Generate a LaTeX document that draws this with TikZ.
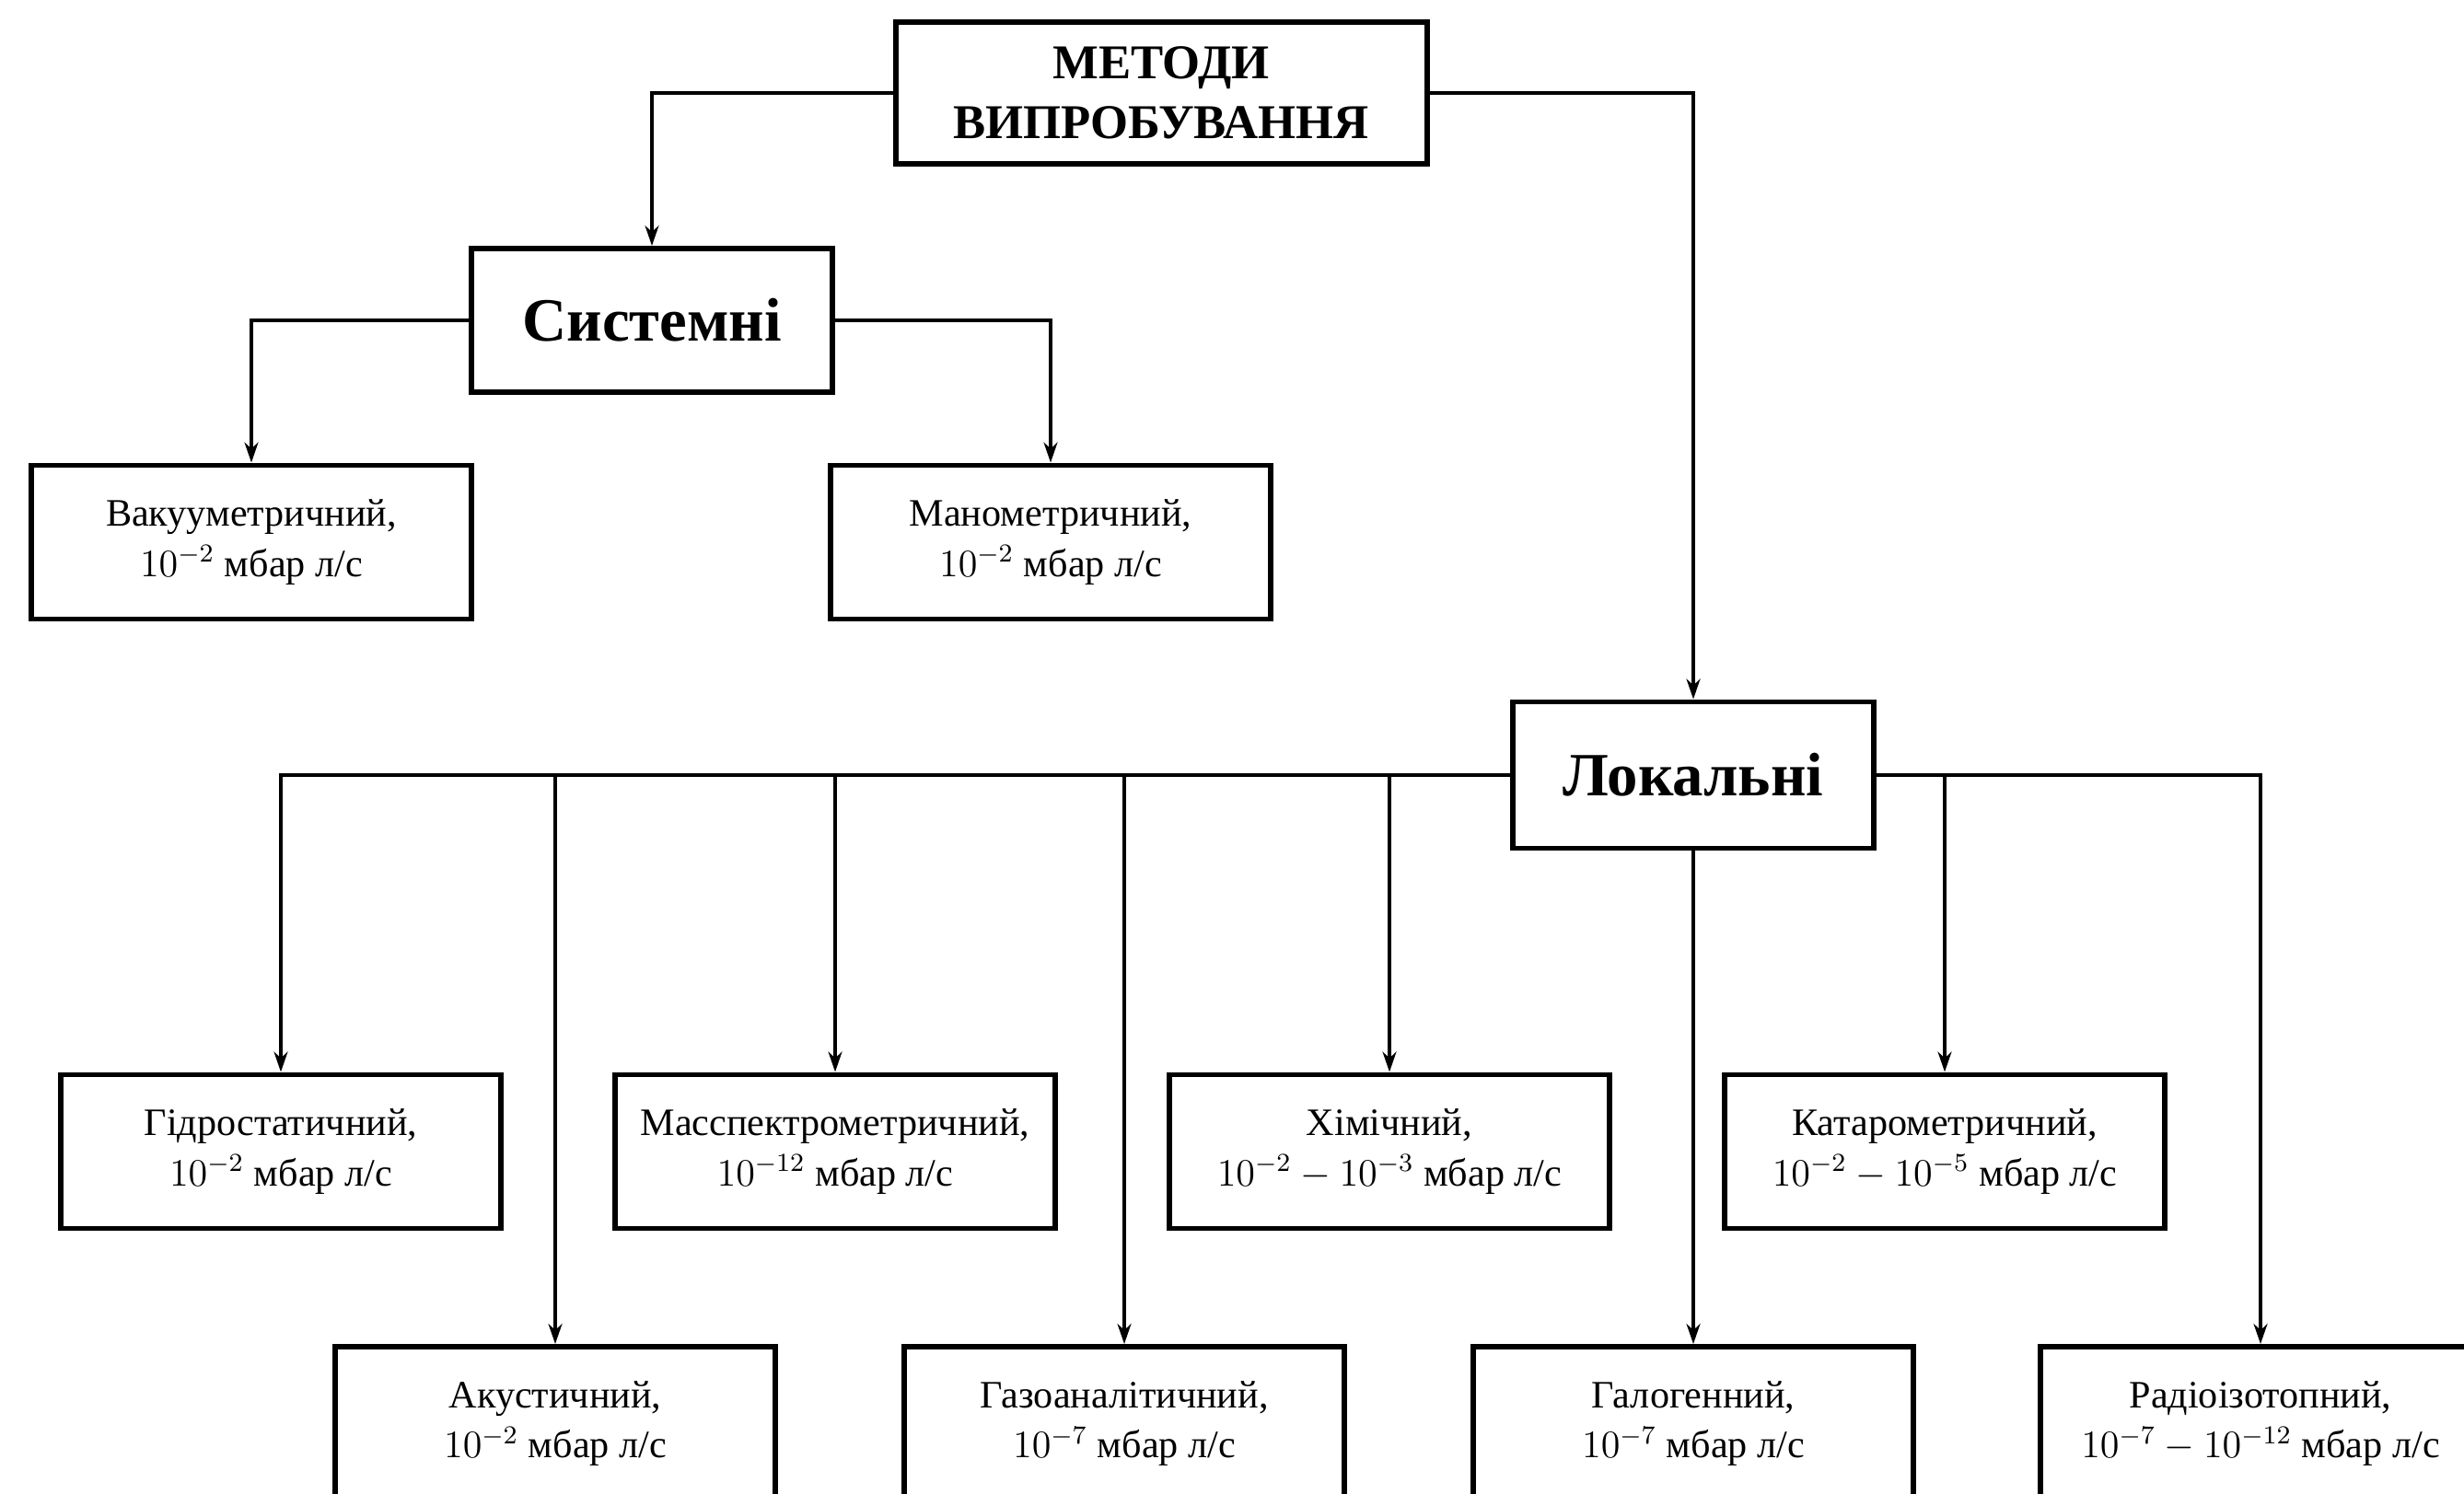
\documentclass[tikz,border=0pt]{standalone}
\usepackage{fontspec}
\setmainfont{Liberation Serif}
\usepackage{tikz}
\usetikzlibrary{arrows.meta}

\tikzset{
  method/.style={draw, line width=1.7pt, minimum width=4.78cm, minimum height=1.67cm,
    align=center, inner sep=0pt, font=\fontsize{12}{15.5}\selectfont},
  group/.style={draw, line width=1.7pt, minimum width=3.92cm, minimum height=1.56cm,
    align=center, inner sep=0pt, font=\bfseries\fontsize{19}{22}\selectfont},
}

\begin{document}
\begin{tikzpicture}[->, >={Stealth[length=0.22cm,width=0.15cm]}, line width=1pt]
      \useasboundingbox (0,0) rectangle (26.76,16.22);

      \node[group, minimum width=5.77cm, minimum height=1.54cm,
        font=\bfseries\fontsize{15}{18.5}\selectfont] (top) at (12.61,15.21)
        {МЕТОДИ\\ВИПРОБУВАННЯ};
      \node[group] (sys) at (7.08,12.74) {Системні};
      \node[group, minimum height=1.59cm] (loc) at (18.39,7.80) {Локальні};

      % system methods
      \node[method] (vac) at (2.73,10.33) {Вакууметричний,\\$10^{-2}$ мбар л/с};
      \node[method] (man) at (11.41,10.33) {Манометричний,\\$10^{-2}$ мбар л/с};

      % local methods, upper row
      \node[method] (hyd) at (3.05,3.71) {Гідростатичний,\\$10^{-2}$ мбар л/с};
      \node[method] (mass) at (9.07,3.71) {Масспектрометричний,\\$10^{-12}$ мбар л/с};
      \node[method] (chem) at (15.09,3.71) {Хімічний,\\$10^{-2}-10^{-3}$ мбар л/с};
      \node[method] (kat) at (21.12,3.71) {Катарометричний,\\$10^{-2}-10^{-5}$ мбар л/с};

      % local methods, lower row
      \node[method] (acu) at (6.03,0.755) {Акустичний,\\$10^{-2}$ мбар л/с};
      \node[method] (gas) at (12.21,0.755) {Газоаналітичний,\\$10^{-7}$ мбар л/с};
      \node[method] (hal) at (18.39,0.755) {Галогенний,\\$10^{-7}$ мбар л/с};
      \node[method] (rad) at (24.55,0.755) {Радіоізотопний,\\$10^{-7}-10^{-12}$ мбар л/с};

      \draw (top.west) -| (sys.north);
      \draw (top.east) -| (loc.north);
      \draw (sys.west) -| (vac.north);
      \draw (sys.east) -| (man.north);

      \draw (loc.west) -| (hyd.north);
      \draw (loc.west) -| (acu.north);
      \draw (loc.west) -| (mass.north);
      \draw (loc.west) -| (gas.north);
      \draw (loc.west) -| (chem.north);
      \draw (loc.south) -- (hal.north);
      \draw (loc.east) -| (kat.north);
      \draw (loc.east) -| (rad.north);
  \end{tikzpicture}
\end{document}
